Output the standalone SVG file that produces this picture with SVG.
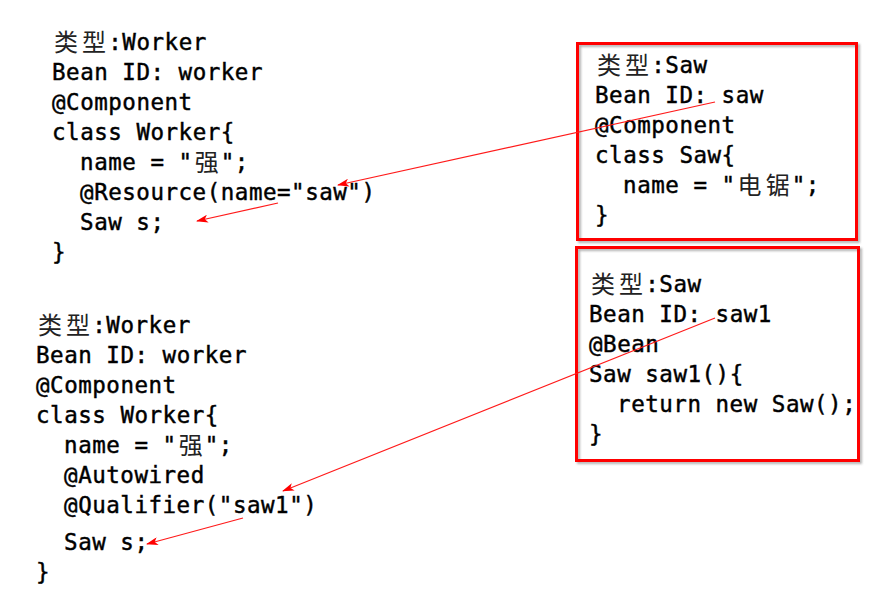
<svg xmlns="http://www.w3.org/2000/svg" width="895" height="596" viewBox="0 0 895 596">
  <style>
    .code { font-family: "DejaVu Sans Mono", "Liberation Mono", monospace; font-size: 22.5px; letter-spacing: 0.52px; fill: #000; stroke: #000; stroke-width: 0.45px; }
    .cjk { font-family: "Noto Sans CJK SC", "Noto Sans", sans-serif; font-size: 24px; fill: #222; }
    .box { fill: none; stroke: #ff0000; stroke-width: 3; }
    .arrow { fill: none; stroke: #ff1a1a; stroke-width: 1.2; marker-end: url(#head); }
  </style>
  <defs>
    <marker id="head" viewBox="0 0 12 8" refX="11" refY="4" markerWidth="12" markerHeight="8" markerUnits="userSpaceOnUse" orient="auto">
      <path d="M0,0 L12,4 L0,8 L3,4 z" fill="#ff0000"/>
    </marker>
    <filter id="shadow" x="-5%" y="-5%" width="115%" height="115%">
      <feDropShadow dx="2" dy="2" stdDeviation="1.2" flood-color="#777" flood-opacity="0.55"/>
    </filter>
  </defs>
  <rect width="895" height="596" fill="#ffffff"/>

  <g id="node-worker-resource">
    <text class="cjk" x="54" y="51">类</text>
    <text class="cjk" x="82" y="51">型</text>
    <text class="code" x="108.3" y="50">:Worker</text>
    <text class="code" x="52" y="80">Bean ID: worker</text>
    <text class="code" x="52" y="110">@Component</text>
    <text class="code" x="52" y="140">class Worker{</text>
    <text class="code" x="80.1" y="170">name = "</text>
    <text class="cjk" x="194.7" y="171">强</text>
    <text class="code" x="220.8" y="170">";</text>
    <text class="code" x="80.1" y="200">@Resource(name="saw")</text>
    <text class="code" x="80.1" y="230">Saw s;</text>
    <text class="code" x="52" y="260">}</text>
  </g>

  <g id="node-worker-qualifier">
    <text class="cjk" x="38" y="334">类</text>
    <text class="cjk" x="66" y="334">型</text>
    <text class="code" x="92.3" y="333">:Worker</text>
    <text class="code" x="36" y="363">Bean ID: worker</text>
    <text class="code" x="36" y="393">@Component</text>
    <text class="code" x="36" y="423">class Worker{</text>
    <text class="code" x="64.1" y="453">name = "</text>
    <text class="cjk" x="178.7" y="454">强</text>
    <text class="code" x="204.8" y="453">";</text>
    <text class="code" x="64.1" y="483">@Autowired</text>
    <text class="code" x="64.1" y="513">@Qualifier("saw1")</text>
    <text class="code" x="64.1" y="550">Saw s;</text>
    <text class="code" x="36" y="580">}</text>
  </g>

  <g id="node-saw">
    <rect class="box" x="577.5" y="43.5" width="279" height="196" filter="url(#shadow)"/>
    <text class="cjk" x="597" y="74">类</text>
    <text class="cjk" x="625" y="74">型</text>
    <text class="code" x="651.3" y="73">:Saw</text>
    <text class="code" x="595" y="103">Bean ID: saw</text>
    <text class="code" x="595" y="133">@Component</text>
    <text class="code" x="595" y="163">class Saw{</text>
    <text class="code" x="623.1" y="193">name = "</text>
    <text class="cjk" x="737.6" y="194">电</text>
    <text class="cjk" x="765.7" y="194">锯</text>
    <text class="code" x="791.8" y="193">";</text>
    <text class="code" x="595" y="223">}</text>
  </g>

  <g id="node-saw1">
    <rect class="box" x="576.5" y="247.5" width="282" height="213" filter="url(#shadow)"/>
    <text class="cjk" x="591" y="293">类</text>
    <text class="cjk" x="619" y="293">型</text>
    <text class="code" x="645.3" y="292">:Saw</text>
    <text class="code" x="589" y="322">Bean ID: saw1</text>
    <text class="code" x="589" y="352">@Bean</text>
    <text class="code" x="589" y="382">Saw saw1(){</text>
    <text class="code" x="617.1" y="412">return new Saw();</text>
    <text class="code" x="589" y="442">}</text>
  </g>

  <g id="connectors">
    <line class="arrow" x1="715" y1="102" x2="338" y2="185"/>
    <line class="arrow" x1="278" y1="203" x2="197" y2="221"/>
    <line class="arrow" x1="715" y1="318" x2="283" y2="491"/>
    <line class="arrow" x1="243" y1="518" x2="147" y2="544"/>
  </g>
</svg>
